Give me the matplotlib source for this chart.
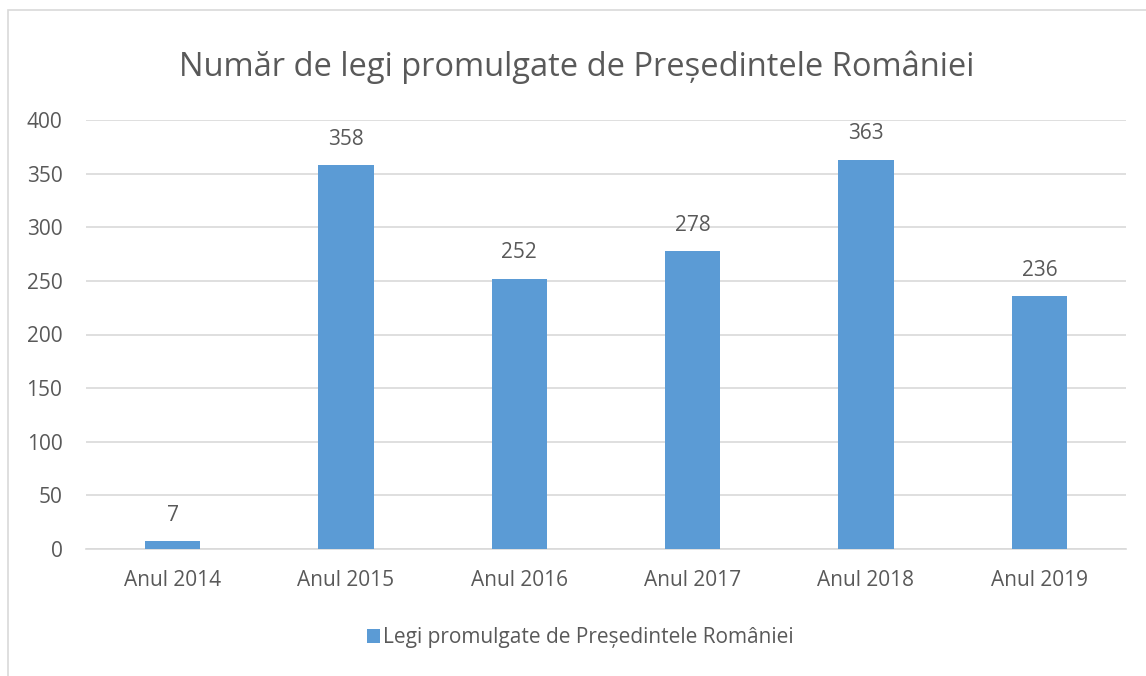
import matplotlib
matplotlib.use("Agg")
import matplotlib.pyplot as plt
from matplotlib.patches import Rectangle, Patch

categories = ["Anul 2014", "Anul 2015", "Anul 2016", "Anul 2017", "Anul 2018", "Anul 2019"]
values = [7, 358, 252, 278, 363, 236]
series_name = "Legi promulgate de Președintele României"
title = "Număr de legi promulgate de Președintele României"
yticks = [0, 50, 100, 150, 200, 250, 300, 350, 400]

plt.rcParams['font.family'] = ['Open Sans', 'DejaVu Sans']
W, H = 1146, 676
fig = plt.figure(figsize=(W / 100, H / 100), dpi=100)
txt = "#595959"
bar_color = "#5B9BD5"
grid = "#D9D9D9"

# outer chart border (cropped at right/bottom)
fig.patches.append(Rectangle((8 / W, -0.1), 1.2, 1 - 10 / H + 0.1, transform=fig.transFigure,
                             fill=False, edgecolor=grid, linewidth=1.2))

ax = fig.add_axes([86 / W, 1 - 549 / H, (1126 - 86) / W, (549 - 120) / H])
x = list(range(len(categories)))
bars = ax.bar(x, values, width=0.32, color=bar_color, zorder=3, label=series_name)
ax.set_xlim(-0.5, len(categories) - 0.5)
ax.set_ylim(0, 400)
ax.set_yticks(yticks)
ax.set_yticklabels([str(v) for v in yticks])
ax.set_xticks(x)
ax.set_xticklabels(categories)
ax.tick_params(axis='both', length=0, labelsize=15, colors=txt)
ax.tick_params(axis='y', pad=17)
ax.tick_params(axis='x', pad=15)
ax.grid(axis='y', color=grid, linewidth=1.2, zorder=0)
for s in ['top', 'right', 'left']:
    ax.spines[s].set_visible(False)
ax.spines['bottom'].set_color(grid)
ax.spines['bottom'].set_linewidth(1.2)

for xi, v in zip(x, values):
    ax.annotate(str(v), (xi, v), xytext=(0, 11), textcoords='offset points',
                ha='center', va='bottom', fontsize=15, color=txt)

fig.text(0.5 * (8 + W) / W, 1 - 67 / H, title, ha='center', va='center', fontsize=23.5, color=txt)

handle = Patch(facecolor=bar_color, edgecolor='none')
fig.legend([handle], [series_name], loc='center', bbox_to_anchor=(0.5 * (8 + W) / W + 0.003, 1 - 638 / H),
           frameon=False, fontsize=15, labelcolor=txt, handlelength=0.65, handleheight=0.65,
           handletextpad=0.15)

fig.savefig("out.png", dpi=100)
